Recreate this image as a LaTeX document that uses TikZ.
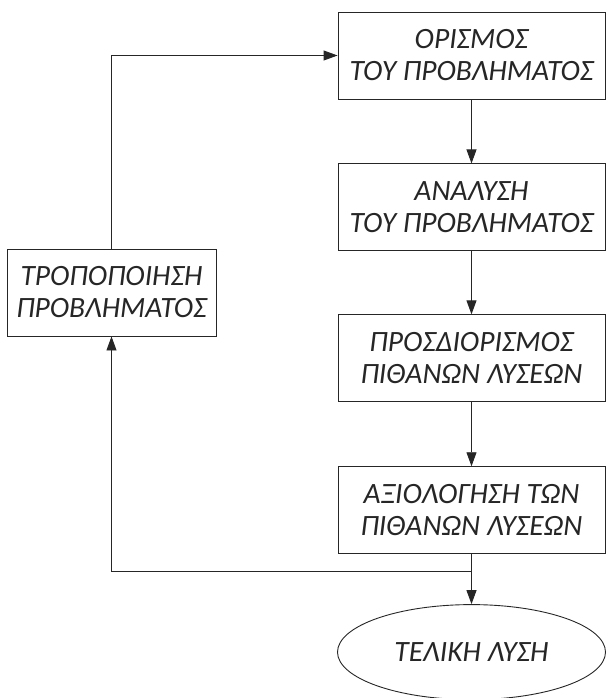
\documentclass[tikz,border=0pt]{standalone}
\usepackage{fontspec}
\setmainfont{Carlito}
\usetikzlibrary{arrows.meta,positioning,shapes.geometric}
\tikzset{
  procbox/.style = {draw, rectangle, line width=0.9pt, minimum width=267pt, minimum height=87pt,
    align=center, inner sep=0pt, font=\fontsize{29.5}{32}\selectfont\itshape},
  endnode/.style = {draw, ellipse, line width=0.9pt, minimum width=268pt, minimum height=95pt,
    inner sep=0pt, font=\fontsize{29.5}{32}\selectfont\itshape},
  flowarrow/.style = {line width=0.9pt, -{Triangle[length=14pt,width=10pt]}},
}
\begin{document}
\begin{tikzpicture}[x=1pt, y=1pt, node distance=64pt, color=black!85]
\useasboundingbox (0,0) rectangle (606,-698);

% main column
\node[procbox] (define) at (471.5,-55.5) {ΟΡΙΣΜΟΣ\\ΤΟΥ ΠΡΟΒΛΗΜΑΤΟΣ};
\node[procbox, below=of define] (analyse) {ΑΝΑΛΥΣΗ\\ΤΟΥ ΠΡΟΒΛΗΜΑΤΟΣ};
\node[procbox, below=63pt of analyse] (solutions) {ΠΡΟΣΔΙΟΡΙΣΜΟΣ\\ΠΙΘΑΝΩΝ ΛΥΣΕΩΝ};
\node[procbox, below=of solutions] (evaluate) {ΑΞΙΟΛΟΓΗΣΗ ΤΩΝ\\ΠΙΘΑΝΩΝ ΛΥΣΕΩΝ};
\node[endnode, below=50pt of evaluate] (final) {ΤΕΛΙΚΗ ΛΥΣΗ};

% feedback box
\node[procbox, minimum width=209pt] (modify) at (111.5,-292.5) {ΤΡΟΠΟΠΟΙΗΣΗ\\ΠΡΟΒΛΗΜΑΤΟΣ};

\draw[flowarrow] (define) -- (analyse);
\draw[flowarrow] (analyse) -- (solutions);
\draw[flowarrow] (solutions) -- (evaluate);
\draw[flowarrow] (evaluate) -- (final);

% loop back
\coordinate[below=17pt of evaluate.south] (split);
\draw[flowarrow] (split) -| (modify.south);
\draw[flowarrow] (modify.north) |- (define.west);
\end{tikzpicture}
\end{document}
